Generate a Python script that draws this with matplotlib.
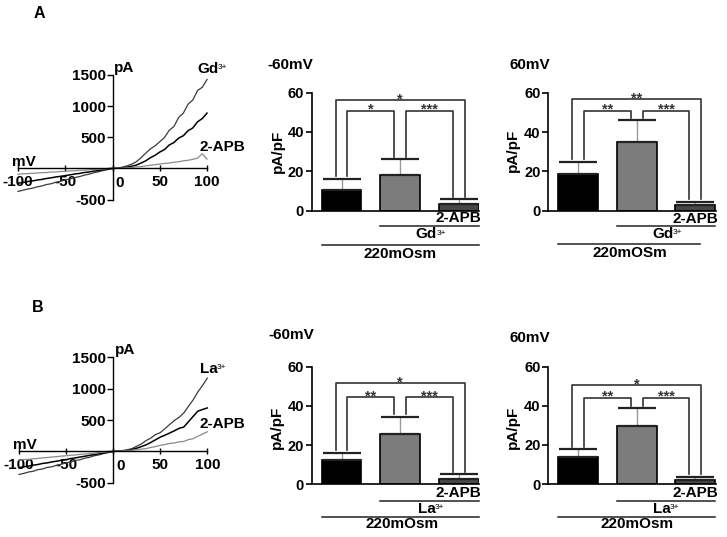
import matplotlib
matplotlib.use('Agg')
import matplotlib.pyplot as plt
from matplotlib.lines import Line2D
from matplotlib import transforms

W, H = 727, 537
plt.rcParams['font.family'] = ['Liberation Sans', 'DejaVu Sans']
plt.rcParams['font.weight'] = 'bold'

# ---------------- I-V traces (pA), voltage in mV ----------------
voltage = list(range(-100, 105, 5))

A_gd = [-370, -352, -333, -320, -298, -284, -260, -247, -223, -207, -186, -170, -148, -132, -110, -94, -71, -55, -35, -19, 0,
        6, 18, 38, 66, 105, 168, 242, 312, 362, 428, 495, 612, 672, 818, 888, 1032, 1098, 1252, 1302, 1428]
A_ctrl = [-238, -228, -212, -203, -188, -178, -163, -152, -138, -128, -116, -104, -91, -81, -67, -58, -44, -35, -21, -12, 0,
          3, 9, 18, 33, 52, 84, 120, 170, 210, 262, 302, 375, 415, 486, 525, 606, 650, 748, 800, 888]
A_apb = [-96, -86, -86, -78, -76, -68, -67, -58, -58, -50, -48, -40, -39, -31, -29, -22, -20, -13, -10, -4, 0,
         3, 5, 11, 14, 24, 28, 40, 50, 60, 68, 80, 86, 98, 106, 122, 130, 145, 165, 235, 150]

B_la = [-368, -352, -330, -318, -292, -281, -256, -246, -220, -206, -182, -170, -145, -133, -108, -95, -70, -57, -34, -20, 0,
        5, 12, 24, 44, 82, 118, 172, 212, 268, 298, 362, 428, 492, 542, 612, 718, 822, 948, 1052, 1168]
B_ctrl = [-262, -246, -236, -220, -210, -193, -184, -168, -157, -142, -131, -115, -104, -90, -78, -64, -52, -38, -26, -12, 0,
          3, 8, 15, 29, 50, 76, 104, 142, 184, 226, 258, 292, 328, 367, 388, 472, 558, 642, 668, 692]
B_apb = [-140, -130, -128, -118, -113, -104, -99, -90, -85, -76, -71, -62, -57, -48, -43, -34, -29, -20, -15, -6, 0,
         2, 7, 11, 19, 24, 36, 44, 62, 76, 96, 108, 127, 133, 152, 158, 188, 202, 242, 276, 312]

# ---------------- bar data (pA/pF): 220mOsm, +ion, +ion+2-APB ----------------
A_m60_mean = [10.5, 17.8, 3.1]
A_m60_sem = [5.6, 8.2, 2.5]
A_p60_mean = [18.8, 35.1, 3.0]
A_p60_sem = [6.1, 11.0, 1.6]
B_m60_mean = [12.2, 25.8, 2.9]
B_m60_sem = [3.9, 8.7, 2.4]
B_p60_mean = [14.0, 29.7, 2.0]
B_p60_sem = [3.9, 9.0, 1.8]

A_m60_sig = ['*', '*', '***']
A_p60_sig = ['**', '**', '***']
B_m60_sig = ['*', '**', '***']
B_p60_sig = ['*', '**', '***']

bar_colors = ['#000000', '#7c7c7c', '#474747']

fig = plt.figure(figsize=(7.27, 5.37), dpi=100)


def box(x0, y0, x1, y1):
    return [x0 / W, 1 - y1 / H, (x1 - x0) / W, (y1 - y0) / H]


def fy(y):
    return 1 - y / H


def ion_label(ax, x, y, base, transform, ha='left'):
    t = ax.text(x, y, base, transform=transform, ha=ha, va='center', fontsize=11, fontweight='bold')
    ax.annotate('3+', xy=(1, 1), xycoords=t, xytext=(-0.6, -1.5), textcoords='offset points',
                ha='left', va='top', fontsize=6, fontweight='normal', annotation_clip=False)
    return t


def iv_panel(x0, y0, x1, y1, traces, colors, ion_txt, ion_pos, apb_pos):
    ax = fig.add_axes(box(x0, y0, x1, y1))
    ax.set_xlim(-100, 100)
    ax.set_ylim(-500, 1500)
    for tr, c, lw in zip(traces, colors, [0.9, 1.1, 0.9]):
        ax.plot(voltage, tr, color=c, lw=lw, clip_on=False)
    for s in ['top', 'right']:
        ax.spines[s].set_visible(False)
    ax.spines['left'].set_position(('data', 0))
    ax.spines['bottom'].set_position(('data', 0))
    ax.spines['left'].set_linewidth(1.0)
    ax.spines['bottom'].set_linewidth(1.0)
    ax.set_xticks([-100, -50, 0, 50, 100])
    ax.set_xticklabels(['-100', '-50', '', '50', '100'])
    ax.set_yticks([-500, 0, 500, 1000, 1500])
    ax.set_yticklabels(['-500', '', '500', '1000', '1500'])
    ax.tick_params(axis='x', direction='inout', length=5, width=1, pad=2, labelsize=11)
    ax.tick_params(axis='y', direction='out', length=4, width=1, pad=1, labelsize=11)
    for lab in ax.get_xticklabels() + ax.get_yticklabels():
        lab.set_fontweight('bold')
    ax.text(8, -240, '0', ha='center', va='center', fontsize=11, fontweight='bold')
    ax.text(2, 1610, 'pA', ha='left', va='center', fontsize=11, fontweight='bold')
    ax.text(-106, 100, 'mV', ha='left', va='center', fontsize=11, fontweight='bold')
    ion_label(ax, ion_pos[0], ion_pos[1], ion_txt, ax.transData)
    ax.text(apb_pos[0], apb_pos[1], '2-APB', ha='left', va='center', fontsize=11, fontweight='bold')
    return ax


iv_panel(18, 75, 207, 199.5, [A_gd, A_ctrl, A_apb], ['#3a3a3a', '#000000', '#8a8a8a'],
         'Gd', (90, 1590), (92, 344))
iv_panel(19, 357.3, 207.3, 482.7, [B_la, B_ctrl, B_apb], ['#3a3a3a', '#000000', '#8a8a8a'],
         'La', (92, 1310), (92, 444))


def bar_panel(sx, ytop, ybot, means, sems, sig, brk_y, title, title_xy, ion_txt, under, ylab_xy):
    ax = fig.add_axes(box(sx, ytop, sx + 167.5, ybot))
    x = [0, 1, 2]
    ax.bar(x, means, width=0.68, color=bar_colors, edgecolor='black', linewidth=1.2, zorder=2)
    eb = ax.errorbar(x, means, yerr=[[0, 0, 0], sems], fmt='none', ecolor='#9a9a9a',
                     elinewidth=1.0, capsize=14, capthick=1.6, zorder=3)
    for cap in eb[1]:
        cap.set_color('#222222')
        cap.set_markeredgecolor('#222222')
    ax.set_xlim(-0.51, 2.35)
    ax.set_ylim(0, 60)
    ax.set_yticks([0, 20, 40, 60])
    ax.set_xticks([])
    for s in ['top', 'right']:
        ax.spines[s].set_visible(False)
    ax.spines['left'].set_linewidth(1.2)
    ax.spines['bottom'].set_linewidth(1.2)
    ax.tick_params(axis='y', direction='out', length=4, width=1.2, pad=1.5, labelsize=10.5)
    for lab in ax.get_yticklabels():
        lab.set_fontweight('bold')
    tops = [m + s for m, s in zip(means, sems)]
    off = 0.1
    pairs = [(0, 2, brk_y[0], -off, +off), (0, 1, brk_y[1], +off, -off), (1, 2, brk_y[1], +off, -off)]
    for (i, j, yb, oi, oj), lab in zip(pairs, sig):
        xi, xj = x[i] + oi, x[j] + oj
        ax.plot([xi, xi, xj, xj], [tops[i] + 1.2, yb, yb, tops[j] + 1.2], color='#333333',
                lw=1.2, clip_on=False, zorder=4)
        ax.text((xi + xj) / 2, yb - 1.6, lab, ha='center', va='baseline', fontsize=10.5,
                fontweight='bold', color='#333333', clip_on=False)
    tr = transforms.blended_transform_factory(ax.transData, fig.transFigure)
    ax.text(2, fy(under['apb_y']), '2-APB', transform=tr, ha='center', va='center', fontsize=11, fontweight='bold')
    fig.add_artist(Line2D([0.66, 2.34], [fy(under['l1_y'])] * 2, transform=tr, color='#222222', lw=1.1))
    ion_label(ax, under['ion_x'], fy(under['ion_y']), ion_txt, tr, ha='center')
    fig.add_artist(Line2D([-0.34, under['l2_end']], [fy(under['l2_y'])] * 2, transform=tr, color='#222222', lw=1.1))
    ax.text(under['osm_x'], fy(under['osm_y']), under['osm_txt'], transform=tr, ha='center', va='center',
            fontsize=11, fontweight='bold')
    fig.text(title_xy[0] / W, fy(title_xy[1]), title, ha='left', va='center', fontsize=11, fontweight='bold')
    fig.text(ylab_xy[0] / W, fy(ylab_xy[1]), 'pA/pF', ha='center', va='center', rotation=90,
             fontsize=11, fontweight='bold')
    return ax


bar_panel(311.7, 92.5, 210.5, A_m60_mean, A_m60_sem, A_m60_sig, (56.0, 50.7), '-60mV', (267, 65),
          'Gd',
          dict(apb_y=218, l1_y=225.7, ion_x=1.45, ion_y=234.5, l2_y=245, l2_end=2.34, osm_x=1.0, osm_y=254,
               osm_txt='220mOsm'), (278, 151))
bar_panel(548.3, 92.7, 210.7, A_p60_mean, A_p60_sem, A_p60_sig, (56.6, 50.8), '60mV', (510, 65),
          'Gd',
          dict(apb_y=219, l1_y=225.7, ion_x=1.45, ion_y=234.3, l2_y=244.3, l2_end=2.08, osm_x=0.88, osm_y=253,
               osm_txt='220mOSm'), (513, 150))
bar_panel(311.7, 366.7, 484.3, B_m60_mean, B_m60_sem, B_m60_sig, (51.5, 44.4), '-60mV', (268, 335),
          'La',
          dict(apb_y=492.7, l1_y=501, ion_x=1.45, ion_y=509.3, l2_y=517.3, l2_end=2.34, osm_x=1.03, osm_y=524.5,
               osm_txt='220mOsm'), (277, 427))
bar_panel(548.3, 366.7, 484.0, B_p60_mean, B_p60_sem, B_p60_sig, (50.6, 44.1), '60mV', (510, 338),
          'La',
          dict(apb_y=493.3, l1_y=501, ion_x=1.43, ion_y=509.3, l2_y=517.3, l2_end=2.34, osm_x=1.0, osm_y=524.5,
               osm_txt='220mOsm'), (513, 427))

fig.text(39 / W, fy(13), 'A', ha='center', va='center', fontsize=11.5, fontweight='bold')
fig.text(38 / W, fy(307), 'B', ha='center', va='center', fontsize=11.5, fontweight='bold')

fig.savefig('out.png', dpi=100)
